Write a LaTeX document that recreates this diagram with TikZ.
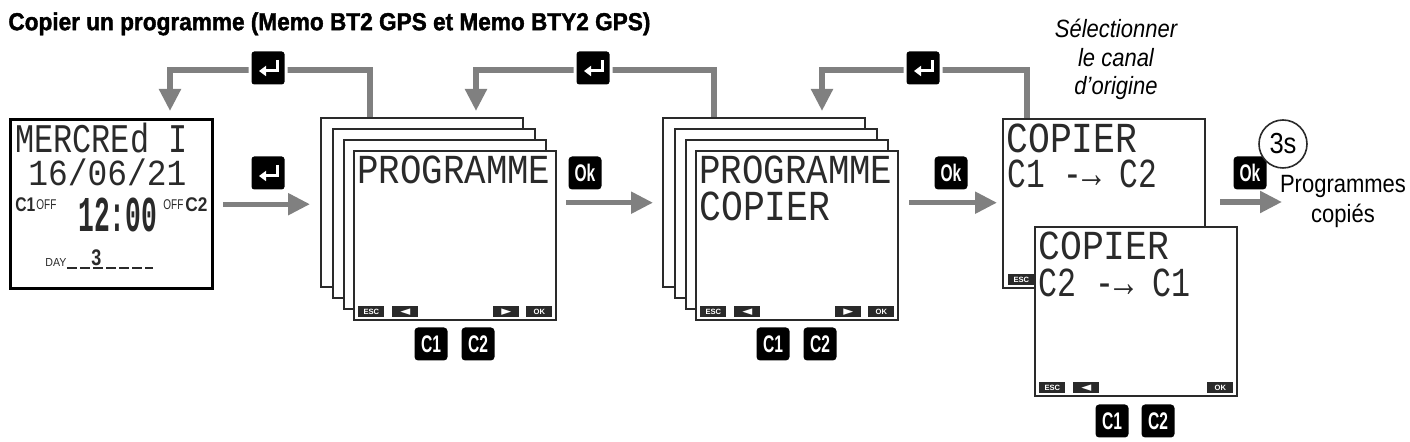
\documentclass[tikz,border=0pt]{standalone}
\usepackage{fontspec}
\usepackage{graphicx}
\setmainfont{Liberation Sans}
\setsansfont{Liberation Sans}
\setmonofont{Liberation Mono}
\newfontfamily\symfont{DejaVu Sans}
\newfontfamily\titlefont[BoldFont={Liberation Sans Bold},BoldFeatures={FakeBold=1.6}]{Liberation Sans}
\usetikzlibrary{arrows.meta}
\newdimen\pxu \pxu=0.5pt
\definecolor{flowgrey}{HTML}{808080}
\definecolor{lcdink}{HTML}{2A2A2A}
\tikzset{
  flow/.style={draw=flowgrey,line width=2.6pt,-{Triangle[length=11pt,width=10.5pt]}},
  sheet/.style={draw=lcdink,fill=white,line width=1.2pt,inner sep=0pt,anchor=north west,minimum width=202\pxu,minimum height=169\pxu},
  mainscreen/.style={sheet,draw=black,line width=1.7pt},
  keycap/.style={fill=black,rounded corners=1.8pt,text=white,inner sep=0pt,minimum width=33\pxu,minimum height=33\pxu,font=\bfseries\fontsize{10}{11}\selectfont},
  halo/.style={keycap,draw=white,line width=1.5pt,minimum width=36\pxu,minimum height=36\pxu},
  softkey/.style={fill=lcdink,text=white,inner sep=0pt,anchor=north west,minimum width=26\pxu,minimum height=11\pxu,font=\bfseries\fontsize{3.8}{4}\selectfont},
  fitted/.style={anchor=north west,inner sep=0pt,text=lcdink},
  caption/.style={font=\fontsize{12.5}{14}\selectfont,text=black,inner sep=0pt},
  slanted/.style={caption,font=\itshape\fontsize{12.5}{14}\selectfont},
}
\newcommand\capt[1]{\scalebox{.88}[1]{#1}}
\newcommand\keytext[1]{\scalebox{.78}[1.2]{#1}}
\newcommand\tri[1]{\symfont\fontsize{6.5}{6.5}\selectfont #1}
% name, x, y, w, h, text
\newcommand\fitted[6]{\node[fitted] (#1) at (#2,#3) {\resizebox*{#4\pxu}{#5\pxu}{#6}};}
\newcommand\retkey[3]{%
  \node[halo] (#1) at (#2,#3) {};
  \draw[white,line width=1.5pt,-{Triangle[length=3.5pt,width=5pt]}] ([shift={(9,-8)}]#1.center) -- ++(0,11) -- ++(-18,0);
}
\newcommand\softkeys[3]{% prefix, dx, dy
  \node[softkey] (#1esc) at ({358+#2},{306+#3}) {ESC};
  \node[softkey] (#1left) at ({392+#2},{306+#3}) {\tri{◄}};
}
\newcommand\stackof[2]{% prefix, dx
  \node[sheet] (#1a) at ({320+#2},117) {};
  \node[sheet] (#1b) at ({332+#2},128) {};
  \node[sheet] (#1c) at ({343+#2},139) {};
  \node[sheet] (#1d) at ({353+#2},150) {};
  \softkeys{#1}{#2}{0}
  \node[softkey] (#1right) at ({493+#2},306) {\tri{►}};
  \node[softkey] (#1ok) at ({526+#2},306) {OK};
  \node[keycap] (#1k1) at ({431+#2},344) {\keytext{C1}};
  \node[keycap] (#1k2) at ({478+#2},344) {\keytext{C2}};
}
\begin{document}
\begin{tikzpicture}[x=0.5pt,y=-0.5pt]
\useasboundingbox (0,0) rectangle (1410,442);
\fill[white] (0,0) rectangle (1410,442);

% title
\node[fitted,text=black] (title) at (8,12) {\resizebox*{642\pxu}{23\pxu}{\titlefont\bfseries Copier un programme (Memo BT2 GPS et Memo BTY2 GPS)}};

% first screen
\node[mainscreen] (scr) at (9,118) {};
\fitted{mer}{15}{123}{172}{30}{\ttfamily MERCREd I}
\fitted{date}{28}{158}{158}{27}{\ttfamily 16/06/21}
\fitted{cone}{15}{197}{20}{14}{\bfseries C1}
\fitted{offone}{36}{199}{20}{10}{OFF}
\fitted{clock}{78}{198}{79}{34}{\ttfamily\bfseries 12:00}
\fitted{offtwo}{163}{199}{20}{10}{OFF}
\fitted{ctwo}{185}{197}{22}{14}{\bfseries C2}
\fitted{day}{45}{258}{21}{8}{DAY}
\fitted{three}{91}{249}{10}{16}{\bfseries 3}
\draw[lcdink,line width=0.8pt,dash pattern=on 5pt off 1.5pt] (67,268) -- (153,268);

% stacks
\stackof{p}{0}
\fitted{ptxt}{357}{156}{193}{28}{\ttfamily PROGRAMME}
\stackof{q}{342}
\fitted{qtxt}{699}{156}{193}{28}{\ttfamily PROGRAMME}
\fitted{qcop}{699}{192}{131}{29}{\ttfamily COPIER}

% copy screens
\node[sheet] (cb) at (1002,118) {};
\fitted{cbtop}{1006}{124}{131}{29}{\ttfamily COPIER}
\fitted{cbbot}{1007}{160}{150}{28}{\ttfamily C1 -→ C2}
\node[softkey] (cbesc) at (1008,274) {ESC};
\node[sheet] (cf) at (1034,226) {};
\fitted{cftop}{1038}{232}{131}{28}{\ttfamily COPIER}
\fitted{cfbot}{1038}{269}{152}{28}{\ttfamily C2 -→ C1}
\softkeys{c}{681}{76}
\node[softkey] (cok) at (1207,382) {OK};
\node[keycap] (ck1) at (1112,421) {\keytext{C1}};
\node[keycap] (ck2) at (1158,421) {\keytext{C2}};

% forward arrows
\draw[flow,shorten <=9\pxu,shorten >=10\pxu] (scr.east) -- (pa.west |- scr.east);
\draw[flow,shorten <=9\pxu,shorten >=9\pxu] (pd.east |- pa.west) -- (qa.west);
\draw[flow,shorten <=10\pxu,shorten >=5\pxu] (qd.east |- qa.west) -- (cb.west |- qa.west);
\coordinate (end) at (1282,202);
\draw[flow,shorten <=14\pxu] (cb.east |- end) -- (end);

% return loops
\coordinate (la) at (370,70);
\coordinate (lb) at (714,70);
\coordinate (lc) at (1027,70);
\coordinate (ta) at (170,70);
\coordinate (tb) at (476,70);
\coordinate (tc) at (822,70);
\draw[flow,shorten >=7\pxu] (la |- pa.north) -- (la) -- (ta) -- (ta |- scr.north);
\draw[flow,shorten >=6\pxu] (lb |- qa.north) -- (lb) -- (tb) -- (tb |- pa.north);
\draw[flow,shorten >=6\pxu] (lc |- cb.north) -- (lc) -- (tc) -- (tc |- qa.north);

% keys
\retkey{ra}{268}{68}
\retkey{rb}{593}{68}
\retkey{rc}{923}{68}
\retkey{rd}{268}{173}
\node[keycap] (oka) at (585,173) {\keytext{Ok}};
\node[keycap] (okb) at (951,173) {\keytext{Ok}};
\node[keycap] (okc) at (1250,173) {\keytext{Ok}};

% timer and captions
\node[circle,draw=lcdink,fill=white,line width=0.8pt,minimum size=48\pxu,inner sep=0pt,font=\fontsize{14.5}{16}\selectfont] (timer) at (1283,144) {\capt{3s}};
\node[caption] (prog) at (1343,187) {\capt{Programmes}};
\node[caption] (cops) at (1343,216) {\capt{copiés}};
\node[slanted] (sel) at (1116,28) {\capt{Sélectionner}};
\node[slanted] (can) at (1116,58) {\capt{le canal}};
\node[slanted] (ori) at (1116,88) {\capt{d’origine}};
\end{tikzpicture}
\end{document}
